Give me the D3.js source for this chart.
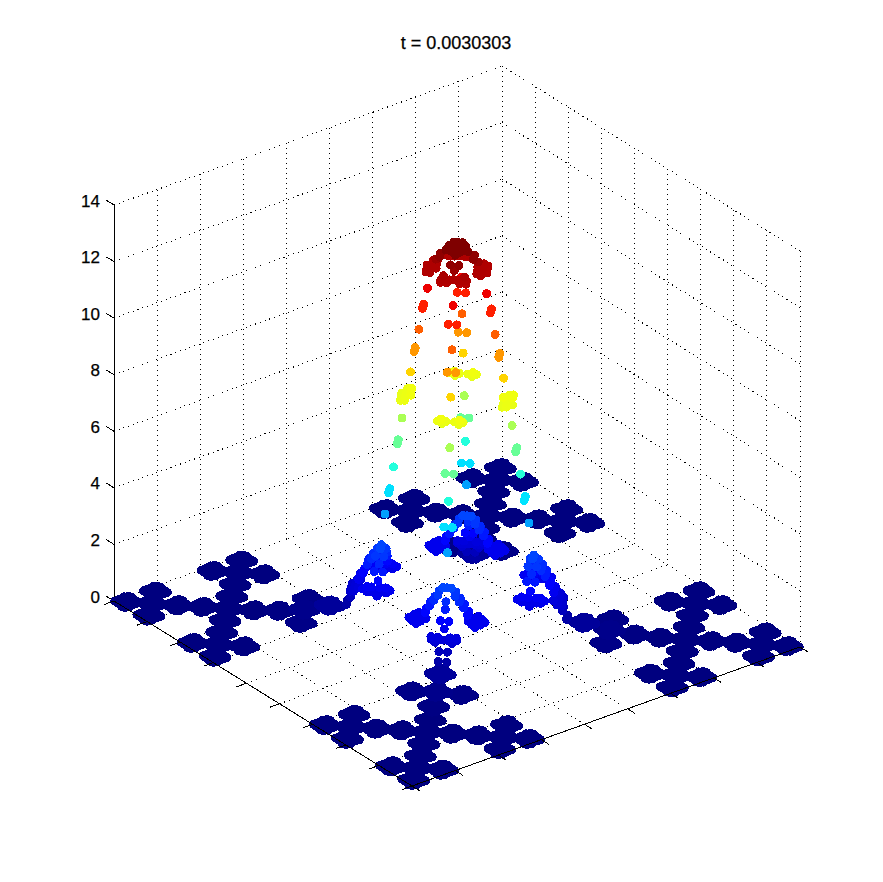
<!DOCTYPE html>
<html>
<head>
<meta charset="utf-8">
<script src="https://cdn.jsdelivr.net/npm/d3@7"></script>
<style>
html,body{margin:0;padding:0;background:#fff}
svg{display:block}
text{font-family:"Liberation Sans",Arial,sans-serif;fill:#000;stroke:#000;stroke-width:.25px}
</style>
</head>
<body>
<svg id="chart" width="883" height="882"></svg>
<script>
// Readings are [p, q, z]: p runs along the left-right floor diagonal, q along the front-back diagonal (-81..81), z is the height.
const titleText = "t = 0.0030303";
const zTicks = [0, 2, 4, 6, 8, 10, 12, 14];
const gridSteps = [0, 1, 2, 3, 4, 5, 6, 7, 8, 9];

// Floor clusters of the four outer branches
const floorLeft = [[-54,0,0],[-60,0,0],[-48,0,0],[-54,6,0],[-54,-6,0],[-72,0,0],[-78,0,0],[-66,0,0],[-72,6,0],[-72,-6,0],[-36,0,.15],[-42,0,.05],[-30,0,.35],[-36,6,.1],[-36,-6,.1],[-54,18,0],[-60,18,0],[-48,18,0],[-54,24,0],[-54,12,0],[-54,-18,0],[-60,-18,0],[-48,-18,0],[-54,-12,0],[-54,-24,0]];
const floorRight = [[54,0,0],[48,0,0],[60,0,0],[54,6,0],[54,-6,0],[36,0,.15],[30,0,.35],[42,0,.05],[36,6,.1],[36,-6,.1],[72,0,0],[66,0,0],[78,0,0],[72,6,0],[72,-6,0],[54,18,0],[48,18,0],[60,18,0],[54,24,0],[54,12,0],[54,-18,0],[48,-18,0],[60,-18,0],[54,-12,0],[54,-24,0]];
const floorBack = [[0,54,0],[-6,54,0],[6,54,0],[0,60,0],[0,48,0],[-18,54,0],[-24,54,0],[-12,54,0],[-18,60,0],[-18,48,0],[18,54,0],[12,54,0],[24,54,0],[18,60,0],[18,48,0],[0,72,0],[-6,72,0],[6,72,0],[0,78,0],[0,66,0],[0,36,.15],[-6,36,.1],[6,36,.1],[0,42,.05],[0,30,.35]];
const floorFront = [[0,-54,0],[-6,-54,0],[6,-54,0],[0,-48,0],[0,-60,0],[-18,-54,0],[-24,-54,0],[-12,-54,0],[-18,-48,0],[-18,-60,0],[18,-54,0],[12,-54,0],[24,-54,0],[18,-48,0],[18,-60,0],[0,-36,.15],[-6,-36,.1],[6,-36,.1],[0,-30,.35],[0,-42,.05],[0,-72,0],[-6,-72,0],[6,-72,0],[0,-66,0],[0,-78,0]];

// Dots of the raised middle
const peakCore = [[0,0,13.4],[-1,0,13.4],[1,0,13.4],[0,-1,13.4],[0,1,13.4],[-2,0,13.3],[2,0,13.3],[0,-2,13.3],[0,2,13.35],[-2.6,0,13.2],[2.6,0,13.2],[0,-3,13.25],[0,3,13.25],[-2,-1,13.3],[-2,1,13.3],[2,-1,13.3],[2,1,13.3],[-1,-2,13.3],[1,-2,13.3],[-1,2,13.35],[1,2,13.35]];

const armLeft = [[-4,-1,13],[-4,1,13],[-5,0,12.85],[-6,-3,12.58],[-6,-2,12.58],[-6,-1,12.58],[-6,0,12.6],[-6,1,12.58],[-6,2,12.58],[-6,3,12.58],[-7,-2.5,12.55],[-7,-1,12.55],[-5,1,12.6],[-5,2.5,12.6],[-7.2,1,12.55],[-4.8,-1,12.6],
[-7,0,11.8],[-8,-1,11.15],[-8,1,11.15],[-9,0,10.33],[-10,-1,9.6],[-10,1,9.6],[-11,0,8.8],
[-12,-3,8],[-12,-2,8],[-12,-1,8],[-12,0,8],[-12,1,8],[-12,2,8],[-12,3,8],[-13,-2.5,7.95],[-13,-1,7.95],[-11,1,8.05],[-11,2.5,8.05],[-13.2,1,7.95],[-10.8,-1,8.05],
[-13,0,7.15],[-14,-1,6.3],[-14,1,6.3],[-15,0,5.4],[-16,-1,4.55],[-16,1,4.55],[-17,0,3.72],[-18,0,2.55],
[-20,0,2.2],[-20,-1.5,2.2],[-20,1.5,2.2],[-21,0,2],[-21,-1.5,2],[-21,1.5,2],[-22,-1,1.66],[-22,1,1.66],[-23,0,1.45],[-23,-1.5,1.45],[-23,1.5,1.45],
[-24,-3,1.13],[-24,-2,1.13],[-24,-1,1.13],[-24,0,1.13],[-24,1,1.13],[-24,2,1.13],[-24,3,1.13],[-25,-2,1.05],[-25,0,1.05],[-25,2,1.05],[-23,-2,1.2],[-23,2,1.2],[-25,-1,.78],[-25,1,.78],[-26,-1,.5],[-26,1,.5]];

const armRight = [[4,-1,13],[4,1,13],[5,0,12.85],[6,-3,12.58],[6,-2,12.58],[6,-1,12.58],[6,0,12.6],[6,1,12.58],[6,2,12.58],[6,3,12.58],[7,2.5,12.55],[7,1,12.55],[5,-1,12.6],[5,-2.5,12.6],[7.2,-1,12.55],[4.8,1,12.6],
[7,0,11.75],[8,-1,11.15],[8,1,11.15],[9,0,10.33],[10,-1,9.6],[10,1,9.6],[11,0,8.8],
[12,-3,8],[12,-2,8],[12,-1,8],[12,0,8],[12,1,8],[12,2,8],[12,3,8],[13,2.5,8.05],[13,1,8.05],[11,-1,7.95],[11,-2.5,7.95],[13.2,-1,7.95],[10.8,1,8.05],
[13,0,7.15],[14,-1,6.3],[14,1,6.3],[15,0,5.45],[16,-1,4.6],[16,1,4.6],[17,0,3.74],[18,0,2.55],
[20,0,2.2],[20,-1.5,2.2],[20,1.5,2.2],[21,0,2],[21,-1.5,2],[21,1.5,2],[22,-1,1.66],[22,1,1.66],[23,0,1.45],[23,-1.5,1.45],[23,1.5,1.45],
[24,-3,1.13],[24,-2,1.13],[24,-1,1.13],[24,0,1.13],[24,1,1.13],[24,2,1.13],[24,3,1.13],[25,-2,1.05],[25,0,1.05],[25,2,1.05],[23,-2,1.2],[23,2,1.2],[25,-1,.78],[25,1,.78],[26,-1,.5],[26,1,.5]];

const armFront = [[-1,-4,12.97],[1,-4,12.97],[0,-5,12.85],[-3,-6,12.58],[-2,-6,12.58],[-1,-6,12.58],[0,-6,12.6],[1,-6,12.58],[2,-6,12.58],[3,-6,12.58],[-3,-6.7,12.52],[-1.5,-6.7,12.52],[1.5,-6.7,12.52],[3,-6.7,12.52],[-2.5,-5.3,12.66],[2.5,-5.3,12.66],
[0,-7,11.75],[-1,-8,11.15],[1,-8,11.15],[0,-9,10.33],[-1,-10,9.6],[1,-10,9.6],[0,-11,8.8],
[-3,-12,8],[-2,-12,8],[-1,-12,8],[1,-12,8],[2,-12,8],[3,-12,8],[-2.2,-12,8.07],[2.2,-12,8.07],[-2,-12,7.92],[2,-12,7.92],
[0,-13,7.15],[-1,-14,6.3],[1,-14,6.3],[0,-15,5.4],[-1,-16,4.55],[1,-16,4.55],[0,-17,3.72],[0,-18,2.55],
[0,-20,2.2],[0,-21,2],[-1,-22,1.66],[1,-22,1.66],[0,-23,1.45],
[-3,-24,1.13],[-2,-24,1.13],[-1,-24,1.13],[0,-24,1.13],[1,-24,1.13],[2,-24,1.13],[3,-24,1.13],[-3,-24,1.22],[-1.5,-24,1.22],[1.5,-24,1.22],[3,-24,1.22],[-2,-24,1.03],[2,-24,1.03],[-1,-25,.78],[1,-25,.78],[-1,-26,.5],[1,-26,.5]];

const armBack = [[-1,4,13],[1,4,13],[0,5,12.85],[-3,6,12.58],[-2,6,12.58],[-1,6,12.58],[0,6,12.6],[1,6,12.58],[2,6,12.58],[3,6,12.58],[-3,6.7,12.52],[-1.5,6.7,12.52],[1.5,6.7,12.52],[3,6.7,12.52],
[0,7,11.75],[-1,8,11.15],[1,8,11.15],[0,9,10.33],[-1,10,9.6],[1,10,9.6],[0,11,8.8],
[-3,12,8],[-2,12,8],[-1,12,8],[1,12,8],[2,12,8],[3,12,8],[-2.2,12,8.07],[2.2,12,8.07],[-2,12,7.92],[2,12,7.92],
[0,13,7.15],[-1,14,6.3],[1,14,6.3],[0,15,5.4],[-1,16,4.55],[1,16,4.55],[0,17,3.72],[0,18,2.55],
[0,20,2.2],[0,21,2],[-1,22,1.66],[1,22,1.66],[0,23,1.45],
[-3,24,1.13],[-2,24,1.13],[-1,24,1.13],[0,24,1.13],[1,24,1.13],[2,24,1.13],[3,24,1.13],[-3,24,1.22],[-1.5,24,1.22],[1.5,24,1.22],[3,24,1.22],[-2,24,1.03],[2,24,1.03],[-1,25,.78],[1,25,.78],[-1,26,.5],[1,26,.5]];

const wingsLeft = [[-18,-1,2.55],[-18,1,2.55],[-19,-2,2.35],[-17,-2,2.35],[-19,2,2.35],[-17,2,2.35],[-18,-3,2.15],[-18,3,2.15],[-19,-4,1.95],[-17,-4,1.95],[-19,4,1.95],[-17,4,1.95],[-18,-5,1.7],[-18,5,1.7],[-17,3,2.15],[-19,3,2.15],[-17,5,1.7],[-19,5,1.7],
[-21.5,-6,1.45],[-15,-6,1.45],[-20.5,-6,1.36],[-19.5,-6,1.36],[-18.5,-6,1.36],[-17.5,-6,1.36],[-16,-6,1.36],[-20.5,-6,1.54],[-19.5,-6,1.54],[-17.5,-6,1.54],[-16,-6,1.54],
[-21.5,6,1.45],[-15,6,1.45],[-20.5,6,1.36],[-19.5,6,1.36],[-18.5,6,1.36],[-17.5,6,1.36],[-16,6,1.36],[-20.5,6,1.54],[-19.5,6,1.54],[-17.5,6,1.54],[-16,6,1.54],[-18,-7,1.3],[-18,7,1.3]];

const wingsRight = [[18,-1,2.55],[18,1,2.55],[19,-2,2.35],[17,-2,2.35],[19,2,2.35],[17,2,2.35],[18,-3,2.15],[18,3,2.15],[19,-4,1.95],[17,-4,1.95],[19,4,1.95],[17,4,1.95],[18,-5,1.7],[18,5,1.7],[17,3,2.15],[19,3,2.15],[17,5,1.7],[19,5,1.7],
[21.5,-6,1.45],[15,-6,1.45],[20.5,-6,1.36],[19.5,-6,1.36],[18.5,-6,1.36],[17.5,-6,1.36],[16,-6,1.36],[20.5,-6,1.54],[19.5,-6,1.54],[17.5,-6,1.54],[16,-6,1.54],
[21.5,6,1.45],[15,6,1.45],[20.5,6,1.36],[19.5,6,1.36],[18.5,6,1.36],[17.5,6,1.36],[16,6,1.36],[20.5,6,1.54],[19.5,6,1.54],[17.5,6,1.54],[16,6,1.54],[18,-7,1.3],[18,7,1.3]];

const wingsFront = [[-1,-18,2.55],[1,-18,2.55],[-2,-19,2.35],[-2,-17,2.35],[2,-19,2.35],[2,-17,2.35],[-3,-18,2.15],[3,-18,2.15],[-4,-19,1.95],[-4,-17,1.95],[4,-19,1.95],[4,-17,1.95],[-5,-18,1.7],[5,-18,1.7],[-3,-17,2.15],[-3,-19,2.15],[3,-17,2.15],[3,-19,2.15],[-5,-17,1.7],[-5,-19,1.7],[5,-17,1.7],[5,-19,1.7],
[-7,-20.8,1.42],[-7,-19.5,1.42],[-7,-18,1.42],[-7,-16.5,1.42],[-7,-15.2,1.42],[-8,-19.5,1.42],[-8,-18,1.42],[-8,-16.5,1.42],[-6,-19.5,1.42],[-6,-18,1.42],[-6,-16.5,1.42],[-9,-18,1.42],[-5,-18,1.42],
[7,-20.8,1.42],[7,-19.5,1.42],[7,-18,1.42],[7,-16.5,1.42],[7,-15.2,1.42],[8,-19.5,1.42],[8,-18,1.42],[8,-16.5,1.42],[6,-19.5,1.42],[6,-18,1.42],[6,-16.5,1.42],[9,-18,1.42],[5,-18,1.42]];

const wingsBack = [[-1,18,2.55],[1,18,2.55],[-2,19,2.35],[-2,17,2.35],[2,19,2.35],[2,17,2.35],[-3,18,2.15],[3,18,2.15],[-4,19,1.95],[-4,17,1.95],[4,19,1.95],[4,17,1.95],[-5,18,1.7],[5,18,1.7],[-3,17,2.15],[-3,19,2.15],[3,17,2.15],[3,19,2.15],[-5,17,1.7],[-5,19,1.7],[5,17,1.7],[5,19,1.7],
[-7,20.8,1.42],[-7,19.5,1.42],[-7,18,1.42],[-7,16.5,1.42],[-7,15.2,1.42],[-8,19.5,1.42],[-8,18,1.42],[-8,16.5,1.42],[-6,19.5,1.42],[-6,18,1.42],[-6,16.5,1.42],[-9,18,1.42],[-5,18,1.42],
[7,20.8,1.42],[7,19.5,1.42],[7,18,1.42],[7,16.5,1.42],[7,15.2,1.42],[8,19.5,1.42],[8,18,1.42],[8,16.5,1.42],[6,19.5,1.42],[6,18,1.42],[6,16.5,1.42],[9,18,1.42],[5,18,1.42]];

// Spread of one floor cluster, in floor units
const clusterSpread = [[0,0],[2.8,0],[-2.8,0],[0,2.8],[0,-2.8],[2.1,.7],[2.1,-.7],[-2.1,.7],[-2.1,-.7],[.9,2.4],[.9,-2.4],[-.9,2.4],[-.9,-2.4],[1.4,1.4],[1.4,-1.4],[-1.4,1.4],[-1.4,-1.4]];

// Projection of the 3-D box through linear scales
const origin = {x: 457, y: 624};
const pToX = d3.scaleLinear([-81, 81], [-343, 343]);
const qToX = d3.scaleLinear([-81, 81], [-45, 45]);
const pToY = d3.scaleLinear([-81, 81], [-23, 23]);
const qToY = d3.scaleLinear([-81, 81], [162, -162]);
const zToY = d3.scaleLinear([0, 14], [0, -396]);
const sx = (p, q) => origin.x + pToX(p) + qToX(q);
const sy = (p, q, z) => origin.y + pToY(p) + qToY(q) + zToY(z);

// The box edges run in steps of a ninth; a = steps along left->front, b = steps along left->back
const stepP = (a, b) => 9 * (a + b - 9);
const stepQ = (a, b) => 9 * (b - a);

const jet = d3.scaleLinear()
  .domain([0, .125, .375, .625, .875, 1])
  .range(["#00007f", "#0000ff", "#00ffff", "#ffff00", "#ff0000", "#7f0000"])
  .clamp(true);
const zColor = d3.scaleLinear([0, 13.2], [0, 1]).clamp(true);

const svg = d3.select("#chart");
const line = (g, a1, b1, z1, a2, b2, z2, dotted) => g.append("line")
  .attr("x1", sx(stepP(a1, b1), stepQ(a1, b1))).attr("y1", sy(stepP(a1, b1), stepQ(a1, b1), z1))
  .attr("x2", sx(stepP(a2, b2), stepQ(a2, b2))).attr("y2", sy(stepP(a2, b2), stepQ(a2, b2), z2))
  .attr("stroke", "#000").attr("stroke-width", 1)
  .attr("stroke-dasharray", dotted ? "1 4" : null)
  .attr("shape-rendering", "crispEdges");

// Dotted grid on floor and two back walls
const grid = svg.append("g");
gridSteps.forEach(k => {
  line(grid, k, 0, 0, k, 9, 0, true);
  line(grid, 0, k, 0, 9, k, 0, true);
  line(grid, 0, k, 0, 0, k, 14, true);
  line(grid, k, 9, 0, k, 9, 14, true);
});
zTicks.forEach(z => {
  line(grid, 0, 0, z, 0, 9, z, true);
  line(grid, 0, 9, z, 9, 9, z, true);
});

// Vertical axis
const zPixel = d3.scaleLinear([0, 14], [sy(-81, 0, 0), sy(-81, 0, 14)]);
const zAxis = svg.append("g").attr("transform", `translate(${sx(-81, 0)},0)`)
  .call(d3.axisLeft(zPixel).tickValues(zTicks).tickSize(0).tickPadding(14).tickFormat(d3.format("d")));
zAxis.select(".domain").remove();
zAxis.selectAll("text").attr("font-size", 17).attr("dy", "1px")
  .style("font-family", '"Liberation Sans",Arial,sans-serif');
const axes = svg.append("g");
line(axes, 0, 0, 0, 0, 0, 14, false);
zTicks.forEach(z => line(axes, -0.23, 0, z, 0, 0, z, false));

// Points, low ones first
const floorDots = [...floorLeft, ...floorRight, ...floorBack, ...floorFront]
  .flatMap(([p, q, z]) => clusterSpread.map(([dp, dq]) => [p + dp, q + dq, z]));
const dots = [...floorDots, ...wingsLeft, ...wingsRight, ...wingsFront, ...wingsBack,
  ...armLeft, ...armRight, ...armFront, ...armBack, ...peakCore]
  .sort((a, b) => d3.ascending(a[2], b[2]));
svg.append("g").selectAll("circle").data(dots).join("circle")
  .attr("cx", d => sx(d[0], d[1]))
  .attr("cy", d => sy(d[0], d[1], d[2]))
  .attr("r", 4.5)
  .attr("fill", d => jet(zColor(d[2])))
  .attr("shape-rendering", "crispEdges");

// Front floor edges and their ticks sit over the points
const front = svg.append("g");
line(front, 0, 0, 0, 9, 0, 0, false);
line(front, 9, 0, 0, 9, 9, 0, false);
gridSteps.forEach(k => {
  line(front, k, 0, 0, k, -0.23, 0, false);
  line(front, 9, k, 0, 9.23, k, 0, false);
});

svg.append("text").attr("x", 456).attr("y", 49).attr("text-anchor", "middle")
  .attr("font-size", 18).text(titleText);
</script>
</body>
</html>
